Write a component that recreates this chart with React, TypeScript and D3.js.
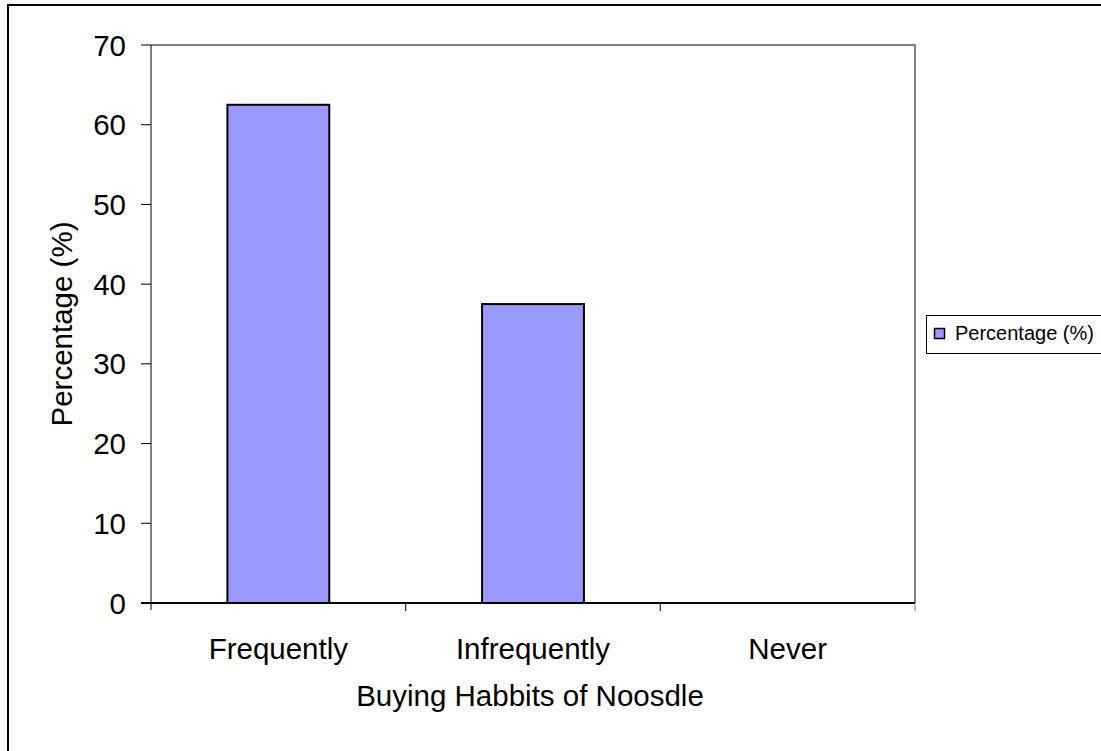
import React, { useEffect, useRef } from 'react';
import * as d3 from 'd3';

const categories = ['Frequently', 'Infrequently', 'Never'];
const values = [62.5, 37.5, 0];
const yTicks = [0, 10, 20, 30, 40, 50, 60, 70];
const seriesName = 'Percentage (%)';
const xTitle = 'Buying Habbits of Noosdle';
const yTitle = 'Percentage (%)';

const App = () => {
  const svgRef = useRef(null);

  useEffect(() => {
    const W = 1101, H = 751;
    const plot = { left: 151, right: 915, top: 45, bottom: 603 };
    const font = 'Arial, "Liberation Sans", sans-serif';
    const fs = 29.5;

    const svg = d3.select(svgRef.current);
    svg.selectAll('*').remove();
    svg.attr('width', W).attr('height', H);

    // outer chart border (runs off right/bottom edge)
    svg.append('rect')
      .attr('x', 8).attr('y', 5)
      .attr('width', W + 20).attr('height', H + 20)
      .attr('fill', 'white').attr('stroke', 'black').attr('stroke-width', 2);

    const x = d3.scaleBand().domain(categories).range([plot.left, plot.right]).paddingInner(0).paddingOuter(0);
    const y = d3.scaleLinear().domain([0, 70]).range([plot.bottom, plot.top]);

    // plot area frame (top and right, gray)
    svg.append('path')
      .attr('d', `M${plot.left},${plot.top}H${plot.right}V${plot.bottom}`)
      .attr('fill', 'none').attr('stroke', '#808080').attr('stroke-width', 2);

    // bars
    const bw = x.bandwidth() * 0.4;
    svg.selectAll('.bar')
      .data(categories.map((c, i) => ({ c, v: values[i] })).filter(d => d.v > 0))
      .enter().append('rect')
      .attr('class', 'bar')
      .attr('x', d => x(d.c) + x.bandwidth() / 2 - bw / 2)
      .attr('y', d => y(d.v))
      .attr('width', bw)
      .attr('height', d => y(0) - y(d.v))
      .attr('fill', '#9999FF')
      .attr('stroke', 'black').attr('stroke-width', 2);

    // y axis
    svg.append('line')
      .attr('x1', plot.left).attr('x2', plot.left)
      .attr('y1', plot.top).attr('y2', plot.bottom + 7)
      .attr('stroke', 'black').attr('stroke-width', 1);
    yTicks.forEach(t => {
      svg.append('line')
        .attr('x1', plot.left - 10).attr('x2', plot.left)
        .attr('y1', y(t)).attr('y2', y(t))
        .attr('stroke', 'black').attr('stroke-width', 1);
      svg.append('text')
        .attr('x', plot.left - 25).attr('y', y(t))
        .attr('dy', '0.36em')
        .attr('text-anchor', 'end')
        .attr('font-family', font).attr('font-size', fs)
        .text(t);
    });

    // x axis
    svg.append('line')
      .attr('x1', plot.left - 10).attr('x2', plot.right)
      .attr('y1', plot.bottom).attr('y2', plot.bottom)
      .attr('stroke', 'black').attr('stroke-width', 2);
    categories.forEach((c, i) => {
      const bx = plot.left + x.step() * (i + 1);
      svg.append('line')
        .attr('x1', bx).attr('x2', bx)
        .attr('y1', plot.bottom).attr('y2', plot.bottom + 8)
        .attr('stroke', i === categories.length - 1 ? '#808080' : 'black').attr('stroke-width', 1);
      svg.append('text')
        .attr('x', x(c) + x.bandwidth() / 2).attr('y', 659)
        .attr('text-anchor', 'middle')
        .attr('font-family', font).attr('font-size', fs)
        .text(c);
    });

    // axis titles
    svg.append('text')
      .attr('x', (plot.left + plot.right) / 2 - 3).attr('y', 706)
      .attr('text-anchor', 'middle')
      .attr('font-family', font).attr('font-size', fs)
      .text(xTitle);
    svg.append('text')
      .attr('transform', `translate(72,${(plot.top + plot.bottom) / 2}) rotate(-90)`)
      .attr('text-anchor', 'middle')
      .attr('font-family', font).attr('font-size', fs)
      .text(yTitle);

    // legend
    svg.append('rect')
      .attr('x', 926.5).attr('y', 315.5)
      .attr('width', 200).attr('height', 38)
      .attr('fill', 'white').attr('stroke', 'black').attr('stroke-width', 1);
    svg.append('rect')
      .attr('x', 934.5).attr('y', 328.5)
      .attr('width', 10).attr('height', 10)
      .attr('fill', '#9999FF').attr('stroke', 'black').attr('stroke-width', 1.5);
    svg.append('text')
      .attr('x', 955).attr('y', 340)
      .attr('font-family', font).attr('font-size', 20)
      .text(seriesName);
  }, []);

  return (
    <svg ref={svgRef} style={{ position: 'absolute', left: 0, top: 0, display: 'block' }}></svg>
  );
};

export default App;
